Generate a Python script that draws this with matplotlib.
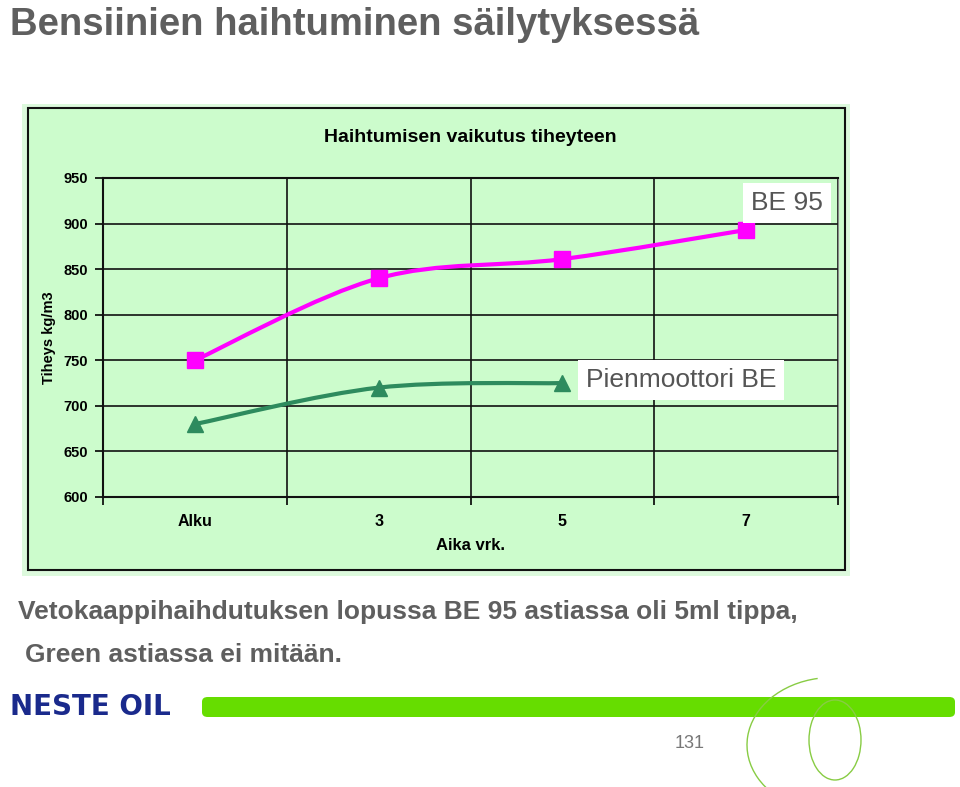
"""Bensiinien haihtuminen säilytyksessä - density vs. storage time."""

import numpy as np
import matplotlib
matplotlib.use("Agg", force=True)
import matplotlib.pyplot as plt
from matplotlib.path import Path
from matplotlib.patches import PathPatch, Rectangle, FancyBboxPatch, Arc

categories = ["Alku", "3", "5", "7"]
be95 = [750, 840, 861, 893]
pienmoottori = [680, 720, 725]
y_ticks = [600, 650, 700, 750, 800, 850, 900, 950]

W, H = 960, 787
plt.rcParams["font.family"] = ["Liberation Sans", "DejaVu Sans"]


def fx(px):
    return px / W


def fy(py):
    return 1 - py / H


def smooth_path(xs, ys):
    # Catmull-Rom style bezier, like Excel's smoothed line
    pts = np.column_stack([xs, ys]).astype(float)
    ext = np.vstack([pts[0], pts, pts[-1]])
    verts = [pts[0]]
    codes = [Path.MOVETO]
    for i in range(len(pts) - 1):
        p0, p1, p2, p3 = ext[i], ext[i + 1], ext[i + 2], ext[i + 3]
        verts += [p1 + (p2 - p0) / 6, p2 - (p3 - p1) / 6, p2]
        codes += [Path.CURVE4] * 3
    return Path(verts, codes)


fig = plt.figure(figsize=(W / 100, H / 100), dpi=100)
fig.patch.set_facecolor("white")

# slide title
fig.text(fx(10), fy(25), "Bensiinien haihtuminen säilytyksessä", fontsize=27.5,
         fontweight="bold", color="#5f5f5f", va="center", ha="left")

# chart frame
fig.patches.append(Rectangle((fx(22), fy(576)), fx(828), 472 / H, transform=fig.transFigure,
                             facecolor="#dcf9dc", edgecolor="none", zorder=-2))
fig.patches.append(Rectangle((fx(28), fy(570)), fx(817), 462 / H, transform=fig.transFigure,
                             facecolor="#ccfccc", edgecolor="#111111", linewidth=1.5, zorder=-1))

ax = fig.add_axes([fx(103), fy(497), fx(735), 319 / H])
ax.set_zorder(2)
ax.set_facecolor("#ccfccc")
ax.set_xlim(0, 4)
ax.set_ylim(600, 950)
ax.set_yticks(y_ticks)
ax.set_yticklabels([str(v) for v in y_ticks], fontweight="bold", fontsize=10.5)
ax.set_xticks([0, 1, 2, 3, 4])
ax.set_xticklabels([])
ax.set_xticks(np.arange(len(categories)) + 0.5, minor=True)
ax.set_xticklabels(categories, minor=True, fontweight="bold", fontsize=11.5)
ax.tick_params(axis="x", which="minor", length=0, pad=12)
ax.tick_params(axis="x", which="major", length=6, width=1.2, direction="out")
ax.tick_params(axis="y", length=6, width=1.2, direction="out", pad=5)
ax.grid(True, which="major", color="#111111", linewidth=1.2)
ax.set_axisbelow(True)
for side in ["left", "bottom", "top"]:
    ax.spines[side].set_color("#111111")
    ax.spines[side].set_linewidth(1.5)
ax.spines["right"].set_color("#888888")

xs = np.arange(len(categories)) + 0.5
ax.add_patch(PathPatch(smooth_path(xs, be95), facecolor="none", edgecolor="#ff00ff",
                       linewidth=3, zorder=3))
ax.plot(xs, be95, linestyle="none", marker="s", markersize=11, color="#ff00ff", zorder=4)
xs2 = np.arange(len(pienmoottori)) + 0.5
ax.add_patch(PathPatch(smooth_path(xs2, pienmoottori), facecolor="none", edgecolor="#2e8b5e",
                       linewidth=3, zorder=3))
ax.plot(xs2, pienmoottori, linestyle="none", marker="^", markersize=12, color="#2e8b5e", zorder=4)

ax.set_title("Haihtumisen vaikutus tiheyteen", fontweight="bold", fontsize=14, pad=26)
ax.set_xlabel("Aika vrk.", fontweight="bold", fontsize=12, labelpad=7)
ax.set_ylabel("Tiheys kg/m3", fontweight="bold", fontsize=10.5, labelpad=5)

# series labels
box = dict(boxstyle="square,pad=0.3", facecolor="white", edgecolor="none")
fig.text(fx(787), fy(203), "BE 95", fontsize=19, color="#555555", ha="center", va="center",
         bbox=box, zorder=5)
fig.text(fx(681), fy(380), "Pienmoottori BE", fontsize=19, color="#555555", ha="center",
         va="center", bbox=box, zorder=5)

# note text
fig.text(fx(18), fy(612), "Vetokaappihaihdutuksen lopussa BE 95 astiassa oli 5ml tippa,",
         fontsize=19, fontweight="bold", color="#5f5f5f", va="center", ha="left")
fig.text(fx(25), fy(655), "Green astiassa ei mitään.",
         fontsize=19, fontweight="bold", color="#5f5f5f", va="center", ha="left")

# footer
fig.text(fx(10), fy(707), "NESTE OIL", fontsize=20, fontweight="bold", color="#1a2a8c",
         va="center", ha="left", family="DejaVu Sans")
fig.patches.append(FancyBboxPatch((fx(202), fy(717)), fx(753), 20 / H,
                                  boxstyle="round,pad=0,rounding_size=0.006",
                                  transform=fig.transFigure, facecolor="#66dd00",
                                  edgecolor="none", zorder=1))
fig.patches.append(Arc((fx(832), fy(745)), fx(170), 135 / H, theta1=100, theta2=245,
                       transform=fig.transFigure, color="#88cc44", linewidth=1, zorder=2))
fig.patches.append(Arc((fx(835), fy(740)), fx(52), 80 / H, theta1=0, theta2=360,
                       transform=fig.transFigure, color="#88cc44", linewidth=1, zorder=2))
fig.text(fx(690), fy(744), "131", fontsize=13, color="#777777", ha="center", va="center")

fig.savefig("out.png", dpi=100)
